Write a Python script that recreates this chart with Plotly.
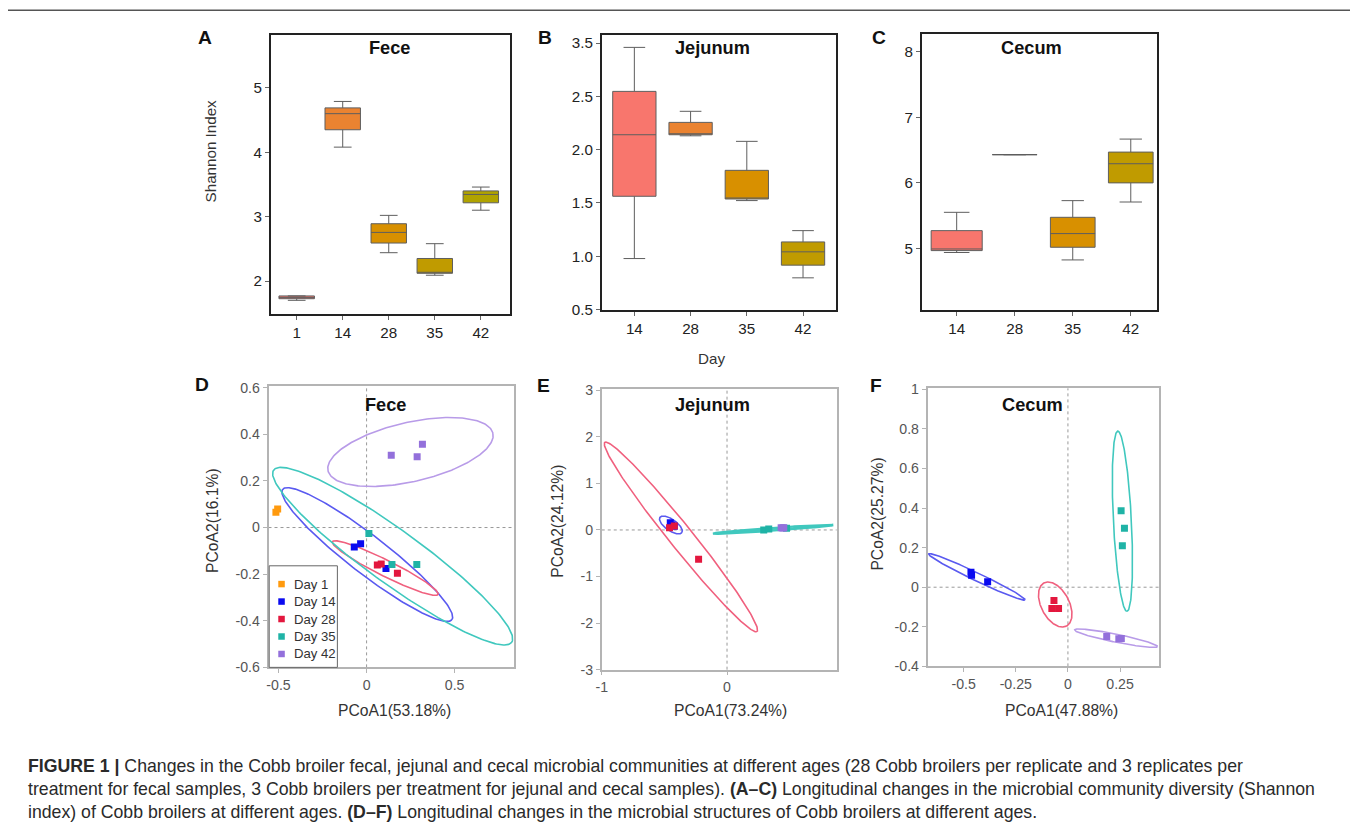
import numpy as np
import plotly.graph_objects as go

W, H = 1358, 835          # browser window
PAGE_MARGIN = 8           # default body margin of the html page
FW, FH = W - 2 * PAGE_MARGIN, H - 2 * PAGE_MARGIN
# calibration of the photographed page (measured from previous renders)
SX, CX, SY, CY = 0.993, 7.5, 0.983, 5.6
FS = 1.012

# ---------------- Shannon index (boxplots) ----------------
fece_days = ["1", "14", "28", "35", "42"]
fece_low = [1.70, 4.08, 2.44, 2.09, 3.10]
fece_q1 = [1.725, 4.35, 2.59, 2.12, 3.215]
fece_median = [1.745, 4.60, 2.755, 2.13, 3.345]
fece_q3 = [1.768, 4.69, 2.89, 2.35, 3.40]
fece_high = [1.768, 4.79, 3.02, 2.58, 3.46]
fece_colors = ["#F8766D", "#EA8331", "#D89000", "#C09B00", "#B0A300"]

jej_days = ["14", "28", "35", "42"]
jej_low = [0.978, 2.13, 1.522, 0.797]
jej_q1 = [1.5625, 2.14, 1.537, 0.916]
jej_median = [2.14, 2.14, 1.544, 1.041]
jej_q3 = [2.547, 2.256, 1.806, 1.134]
jej_high = [2.96, 2.36, 2.078, 1.24]
jej_colors = ["#F8766D", "#EA8331", "#D89000", "#C09B00"]

cec_days = ["14", "28", "35", "42"]
cec_low = [4.94, 6.43, 4.827, 5.709]
cec_q1 = [4.969, 6.43, 5.02, 6.0]
cec_median = [4.994, 6.43, 5.228, 6.292]
cec_q3 = [5.273, 6.43, 5.476, 6.469]
cec_high = [5.552, 6.43, 5.73, 6.667]
cec_colors = ["#F8766D", "#EA8331", "#D89000", "#C09B00"]

# Jejunum y-axis tick labels as printed (top label reads 3.5)
jej_tickvals = [0.5, 1.0, 1.5, 2.0, 2.5, 3.0]
jej_ticktext = ["0.5", "1.0", "1.5", "2.0", "2.5", "3.5"]

# ---------------- PCoA ----------------
groups = ["Day 1", "Day 14", "Day 28", "Day 35", "Day 42"]
marker_colors = ["#FF9A0E", "#0A0AF0", "#E3173E", "#1FB3A6", "#9370DB"]
ellipse_colors = ["#FFB84D", "#5A5AF0", "#F0607E", "#40C8BE", "#B89BE8"]

fece_groups = ["Day 1", "Day 14", "Day 28", "Day 35", "Day 42"]
fece_pc1 = [[-0.515, -0.505], [-0.070, -0.034, 0.110], [0.061, 0.083, 0.175],
            [0.013, 0.144, 0.285], [0.140, 0.287, 0.317]]
fece_pc2 = [[0.066, 0.079], [-0.084, -0.070, -0.176], [-0.161, -0.156, -0.196],
            [-0.026, -0.159, -0.159], [0.310, 0.304, 0.357]]
fece_ell_center = [None, (0.004, -0.116), (0.106, -0.174), (0.148, -0.123), (0.249, 0.324)]
fece_ell_major = [None, (0.4803, -0.2796), (0.300, -0.113), (0.6755, -0.3696), (0.468, 0.0807)]
fece_ell_minor = [None, (-0.0662, -0.0644), (-0.0204, -0.0307), (-0.0892, -0.0925), (0.0377, -0.124)]

jej_groups = ["Day 14", "Day 28", "Day 35", "Day 42"]
jej_pc1 = [[-0.453, -0.440, -0.421], [-0.459, -0.421, -0.227],
           [0.293, 0.333, 0.475], [0.432, 0.453, 0.445]]
jej_pc2 = [[0.157, 0.107, 0.079], [0.050, 0.086, -0.630],
           [0.000, 0.021, 0.036], [0.050, 0.050, 0.040]]
jej_ell_center = [(-0.448, 0.107), (-0.368, -0.150), (0.368, 0.0143), None]
jej_ell_major = [(0.0875, -0.164), (0.6075, -2.031), (0.48, 0.093), None]
jej_ell_minor = [(-0.026, -0.0996), (-0.0728, -0.1567), (0.00077, -0.0286), None]

cec_groups = ["Day 14", "Day 28", "Day 35", "Day 42"]
cec_pc1 = [[-0.465, -0.462, -0.385], [-0.067, -0.077, -0.045],
           [0.255, 0.271, 0.261], [0.186, 0.244, 0.256]]
cec_pc2 = [[0.076, 0.061, 0.027], [-0.067, -0.108, -0.108],
           [0.387, 0.298, 0.209], [-0.249, -0.261, -0.259]]
cec_ell_center = [(-0.4367, 0.0522), (-0.0609, -0.0875), (0.2612, 0.3333), (0.2308, -0.2576)]
cec_ell_major = [(0.2314, -0.116), (0.0537, -0.1092), (0.022, -0.4556), (0.1987, -0.0421)]
cec_ell_minor = [(-0.00828, -0.01823), (-0.0598, -0.0325), (-0.0432, -0.0023), (-0.0038, -0.0198)]


def px(x):
    return ((x - CX) / SX - PAGE_MARGIN) / FW


def py(y):
    return 1 - ((y - CY) / SY - PAGE_MARGIN) / FH


def fs(s):
    return s * FS


def ellipse_xy(center, major, minor, n=240):
    t = np.linspace(0, 2 * np.pi, n)
    x = center[0] + major[0] * np.cos(t) + minor[0] * np.sin(t)
    y = center[1] + major[1] * np.cos(t) + minor[1] * np.sin(t)
    return x, y


fig = go.Figure()

# ---- boxplots ----
def add_boxes(days, low, q1, med, q3, high, colors, ax, widths=None):
    for i, d in enumerate(days):
        w = 0.77 if widths is None else widths[i]
        fig.add_trace(go.Box(
            x=[d], q1=[q1[i]], median=[med[i]], q3=[q3[i]],
            lowerfence=[low[i]], upperfence=[high[i]],
            fillcolor=colors[i], line=dict(color="#5e5e5e", width=1.0),
            width=w, boxpoints=False, showlegend=False, hoverinfo="skip",
            xaxis="x" + ax, yaxis="y" + ax))

add_boxes(fece_days, fece_low, fece_q1, fece_median, fece_q3, fece_high, fece_colors, "")
add_boxes(jej_days, jej_low, jej_q1, jej_median, jej_q3, jej_high, jej_colors, "2")
add_boxes(cec_days, cec_low, cec_q1, cec_median, cec_q3, cec_high, cec_colors, "3",
          widths=[0.88, 0.77, 0.77, 0.77])

# ---- PCoA ----
def add_pcoa(grps, pc1, pc2, centers, majors, minors, ax):
    for i, g in enumerate(grps):
        gi = groups.index(g)
        if centers[i] is not None:
            ex, ey = ellipse_xy(centers[i], majors[i], minors[i])
            lw = 2.4 if (ax == "5" and g == "Day 35") else 1.6
            fig.add_trace(go.Scatter(
                x=ex, y=ey, mode="lines", line=dict(color=ellipse_colors[gi], width=lw),
                showlegend=False, hoverinfo="skip", xaxis="x" + ax, yaxis="y" + ax))
    for i, g in enumerate(grps):
        gi = groups.index(g)
        fig.add_trace(go.Scatter(
            x=pc1[i], y=pc2[i], mode="markers", name=g,
            marker=dict(symbol="square", size=7, color=marker_colors[gi]),
            showlegend=False, xaxis="x" + ax, yaxis="y" + ax))

add_pcoa(fece_groups, fece_pc1, fece_pc2, fece_ell_center, fece_ell_major, fece_ell_minor, "4")
add_pcoa(jej_groups, jej_pc1, jej_pc2, jej_ell_center, jej_ell_major, jej_ell_minor, "5")
add_pcoa(cec_groups, cec_pc1, cec_pc2, cec_ell_center, cec_ell_major, cec_ell_minor, "6")

FONT = "Liberation Sans, Arial, sans-serif"

box_axis = dict(showline=True, mirror=True, linecolor="#222222", linewidth=1.6,
                ticks="outside", ticklen=4, tickcolor="#666666", showgrid=False,
                zeroline=False, tickfont=dict(size=fs(15), color="#222222", family=FONT))
pc_axis = dict(showline=True, mirror=True, linecolor="#b4b4b4", linewidth=1.5,
               ticks="outside", ticklen=4, tickcolor="#b4b4b4", showgrid=False,
               zeroline=False, tickfont=dict(size=fs(14), color="#555555", family=FONT))

layout = dict(
    width=FW, height=FH, margin=dict(l=0, r=0, t=0, b=0),
    paper_bgcolor="white", plot_bgcolor="white", boxmode="overlay", showlegend=False,
    font=dict(family=FONT, color="#222222"),
    xaxis=dict(box_axis, domain=[px(271.7), px(510)], type="category",
               range=[-0.56, 4.63], anchor="y"),
    yaxis=dict(box_axis, domain=[py(312.7), py(33)], range=[1.49, 5.83],
               tickvals=[2, 3, 4, 5], anchor="x"),
    xaxis2=dict(box_axis, domain=[px(601.7), px(835)], type="category",
                range=[-0.58, 3.58], anchor="y2"),
    yaxis2=dict(box_axis, domain=[py(309.3), py(33.3)], range=[0.491, 3.078],
                tickvals=jej_tickvals, ticktext=jej_ticktext, anchor="x2"),
    xaxis3=dict(box_axis, domain=[px(921), px(1156)], type="category",
                range=[-0.60, 3.46], anchor="y3"),
    yaxis3=dict(box_axis, domain=[py(308.7), py(32.7)], range=[4.067, 8.264],
                tickvals=[5, 6, 7, 8], anchor="x3"),
    xaxis4=dict(pc_axis, domain=[px(269.3), px(514)], range=[-0.557, 0.836],
                tickvals=[-0.5, 0, 0.5], ticktext=["-0.5", "0", "0.5"], anchor="y4"),
    yaxis4=dict(pc_axis, domain=[py(666.7), py(385)], range=[-0.6, 0.607],
                tickvals=[-0.6, -0.4, -0.2, 0, 0.2, 0.4, 0.6],
                ticktext=["-0.6", "-0.4", "-0.2", "0", "0.2", "0.4", "0.6"], anchor="x4"),
    xaxis5=dict(pc_axis, domain=[px(601.7), px(836)], range=[-1, 0.875],
                tickvals=[-1, 0], ticktext=["-1", "0"], anchor="y5"),
    yaxis5=dict(pc_axis, domain=[py(669), py(388.3)], range=[-3, 3.02],
                tickvals=[-3, -2, -1, 0, 1, 2, 3],
                ticktext=["-3", "-2", "-1", "0", "1", "2", "3"], anchor="x5"),
    xaxis6=dict(pc_axis, domain=[px(926.7), px(1157.7)], range=[-0.673, 0.4375],
                tickvals=[-0.5, -0.25, 0, 0.25], ticktext=["-0.5", "-0.25", "0", "0.25"],
                anchor="y6"),
    yaxis6=dict(pc_axis, domain=[py(665.7), py(387.3)], range=[-0.4, 1.005],
                tickvals=[-0.4, -0.2, 0, 0.2, 0.4, 0.6, 0.8, 1],
                ticktext=["-0.4", "-0.2", "0", "0.2", "0.4", "0.6", "0.8", "1"], anchor="x6"),
)
fig.update_layout(**layout)

# dotted zero reference lines in PCoA panels
for ax in ["4", "5", "6"]:
    fig.add_shape(type="line", xref="x" + ax, yref="y" + ax + " domain",
                  x0=0, x1=0, y0=0, y1=1, line=dict(color="#999999", width=1, dash="dot"),
                  layer="below")
    fig.add_shape(type="line", xref="x" + ax + " domain", yref="y" + ax,
                  x0=0, x1=1, y0=0, y1=0, line=dict(color="#999999", width=1, dash="dot"),
                  layer="below")

# outer frame (open at the bottom)
FRAME = dict(color="#555555", width=1.5)
FL, FR, FT = 8.6, 1352.0, 8.8
fig.add_shape(type="line", xref="paper", yref="paper", x0=px(FL), x1=px(FR), y0=py(FT), y1=py(FT), line=FRAME)
fig.add_shape(type="line", xref="paper", yref="paper", x0=px(FL), x1=px(FL), y0=py(FT), y1=0, line=FRAME)
fig.add_shape(type="line", xref="paper", yref="paper", x0=px(FR), x1=px(FR), y0=py(FT), y1=0, line=FRAME)

ann = []

def text(x, y, s, size, bold=False, color="#222222", angle=0, xanchor="center"):
    ann.append(dict(x=px(x), y=py(y), xref="paper", yref="paper",
                    text=("<b>%s</b>" % s) if bold else s,
                    showarrow=False, textangle=angle, xanchor=xanchor, yanchor="middle",
                    font=dict(size=fs(size), color=color, family=FONT)))

# legend box for panel D (Day groups)
LEG_LEFT, LEG_TOP, LEG_RIGHT, LEG_BOTTOM = 270, 565, 338, 666.7
LEG_ROW0, LEG_STEP, SW = 583.3, 17.5, 6.5
fig.add_shape(type="rect", xref="paper", yref="paper",
              x0=px(LEG_LEFT), x1=px(LEG_RIGHT), y0=py(LEG_BOTTOM), y1=py(LEG_TOP),
              line=dict(color="#666666", width=1), fillcolor="white", layer="above")
for i, g in enumerate(groups):
    cy = LEG_ROW0 + i * LEG_STEP
    cx = LEG_LEFT + 12.3
    fig.add_shape(type="rect", xref="paper", yref="paper",
                  x0=px(cx - SW / 2), x1=px(cx + SW / 2), y0=py(cy + SW / 2), y1=py(cy - SW / 2),
                  line=dict(width=0), fillcolor=marker_colors[i], layer="above")
    text(LEG_LEFT + 22.5, cy, g, 13, color="#333333", xanchor="left")

# panel letters
for lx, ly, l in [(206, 36, "A"), (545, 36, "B"), (878, 36, "C"),
                  (203, 383, "D"), (544, 384, "E"), (875, 384, "F")]:
    text(lx, ly, l, 19, bold=True, color="#111111")

# panel titles
text(390, 47, "Fece", 18, bold=True, color="#111111")
text(711.7, 47, "Jejunum", 18, bold=True, color="#111111")
text(1030.7, 47, "Cecum", 18, bold=True, color="#111111")
text(386.7, 403.5, "Fece", 18, bold=True, color="#111111")
text(711.7, 403.5, "Jejunum", 18, bold=True, color="#111111")
text(1031.7, 403.5, "Cecum", 18, bold=True, color="#111111")

# axis titles
text(211, 150, "Shannon Index", 15, color="#333333", angle=-90)
text(711, 357, "Day", 15, color="#333333")
text(214, 520, "PCoA2(16.1%)", 15.5, color="#333333", angle=-90)
text(395, 710, "PCoA1(53.18%)", 15.5, color="#333333")
text(558, 520, "PCoA2(24.12%)", 15.5, color="#333333", angle=-90)
text(730, 710, "PCoA1(73.24%)", 15.5, color="#333333")
text(877, 513, "PCoA2(25.27%)", 15.5, color="#333333", angle=-90)
text(1060, 710, "PCoA1(47.88%)", 15.5, color="#333333")

# caption
cap1 = ("<b>FIGURE 1 |</b> Changes in the Cobb broiler fecal, jejunal and cecal microbial communities "
        "at different ages (28 Cobb broilers per replicate and 3 replicates per")
cap2 = ("treatment for fecal samples, 3 Cobb broilers per treatment for jejunal and cecal samples). "
        "<b>(A–C)</b> Longitudinal changes in the microbial community diversity (Shannon")
cap3 = ("index) of Cobb broilers at different ages. <b>(D–F)</b> Longitudinal changes in the "
        "microbial structures of Cobb broilers at different ages.")
for yy, c in [(765, cap1), (788.5, cap2), (812, cap3)]:
    text(27, yy, c, 17.5, color="#2a2a2a", xanchor="left")

fig.update_layout(annotations=ann)

fig.write_html("out.html", config={"displayModeBar": False})
